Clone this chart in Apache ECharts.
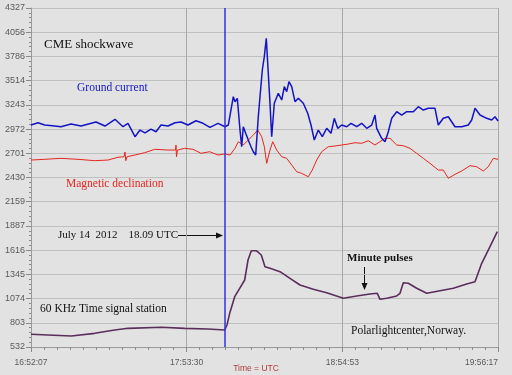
<!DOCTYPE html>
<html><head><meta charset="utf-8">
<script src="https://cdn.jsdelivr.net/npm/echarts@6/dist/echarts.min.js"></script>
<style>html,body{margin:0;padding:0;background:#e2e2e2;}#c{width:512px;height:375px;}</style>
</head><body><div id="c"></div>
<script>
// time axis: minutes after 16:52:07 UTC
const xTickLabels = ['16:52:07', '17:53:30', '18:54:53', '19:56:17'];
const xSpanMinutes = 184.1667;
const yTickLabels = ['532', '803', '1074', '1345', '1616', '1887', '2159', '2430', '2701', '2972', '3243', '3514', '3786', '4056', '4327'];
const yMin = 532, yMax = 4327;
const eventMinute = 76.5; // 18.09 UTC

const groundTime = [0, 2.76, 5.40, 9.35, 11.83, 15.77, 19.72, 25.63, 29.18, 33.13, 36.28, 38.25, 41.01, 42.98, 44.96, 47.32, 49.30, 51.27, 54.03, 56.79, 59.16, 61.91, 65.07, 67.83, 70.59, 73.74, 76.51, 77.81, 79.78, 80.45, 81.36, 82.42, 83.09, 83.72, 84.67, 85.69, 86.76, 87.67, 88.61, 89.64, 90.31, 91.22, 92.01, 92.79, 93.35, 94.25, 94.92, 95.95, 97.53, 98.87, 99.89, 100.84, 101.74, 102.81, 104.11, 105.41, 107.39, 109.12, 110.42, 111.72, 113.30, 114.88, 116.61, 118.31, 119.61, 120.95, 122.53, 124.50, 126.20, 128.44, 130.41, 132.39, 134.36, 135.66, 136.33, 138.30, 139.60, 140.91, 142.25, 144.22, 146.19, 148.16, 150.77, 152.74, 154.71, 156.68, 159.32, 160.62, 162.59, 164.57, 167.21, 169.85, 172.45, 173.79, 175.10, 177.07, 179.71, 181.68, 182.98, 184.17];
const groundValue = [3017, 3043, 3017, 3006, 2998, 3028, 3006, 3051, 3006, 3081, 2998, 3036, 2886, 2961, 2928, 2972, 2942, 3017, 3006, 3043, 3051, 3017, 3065, 3036, 2991, 3036, 2998, 3017, 3334, 3278, 3316, 2961, 2774, 2998, 2924, 2849, 2774, 2718, 2681, 3110, 3334, 3633, 3782, 3988, 3708, 3260, 2886, 3260, 3372, 3297, 3446, 3390, 3502, 3446, 3278, 3316, 3260, 3148, 3017, 2849, 2961, 2886, 2980, 2924, 3092, 2980, 3017, 2998, 3036, 2998, 3036, 2980, 3017, 3129, 2980, 2868, 2830, 2942, 3092, 3166, 3129, 3166, 3166, 3222, 3185, 3204, 3204, 3017, 3092, 3110, 2998, 2998, 3017, 3073, 3204, 3129, 3092, 3073, 3110, 3062];

const declTime = [0, 5.40, 11.83, 18.53, 25.12, 30.37, 34.31, 36.68, 37.07, 37.39, 37.86, 40.89, 44.84, 48.78, 54.03, 56.99, 57.18, 57.38, 57.77, 60.61, 63.89, 67.04, 70.47, 73.74, 76.39, 78.48, 80.45, 81.75, 83.72, 85.69, 87.67, 89.40, 90.98, 92.01, 92.95, 94.25, 95.32, 96.89, 98.87, 100.84, 102.81, 104.78, 106.75, 109.36, 110.93, 112.67, 114.64, 117.24, 119.89, 122.53, 125.13, 127.77, 130.41, 133.02, 135.66, 136.33, 139.60, 141.58, 144.22, 146.82, 149.46, 152.10, 154.71, 157.35, 160.62, 162.59, 164.57, 167.21, 169.85, 173.12, 175.77, 178.37, 180.34, 182.31, 184.17];
const declValue = [2625, 2633, 2644, 2633, 2618, 2625, 2656, 2662, 2715, 2618, 2662, 2681, 2707, 2745, 2737, 2737, 2793, 2662, 2737, 2756, 2745, 2700, 2718, 2681, 2693, 2681, 2756, 2830, 2793, 2849, 2905, 2961, 2886, 2774, 2588, 2737, 2830, 2737, 2662, 2644, 2569, 2494, 2476, 2438, 2513, 2625, 2718, 2774, 2782, 2793, 2804, 2819, 2812, 2841, 2793, 2774, 2868, 2868, 2793, 2785, 2756, 2700, 2644, 2588, 2513, 2513, 2421, 2465, 2502, 2562, 2550, 2502, 2550, 2644, 2633];

const signalTime = [0, 6.70, 15.89, 25.12, 33.01, 38.25, 51.39, 60.61, 69.80, 76.39, 77.29, 78.36, 80.33, 82.30, 84.27, 85.58, 86.88, 88.85, 90.82, 92.28, 94.25, 98.20, 102.14, 106.08, 111.33, 116.61, 123.16, 128.44, 133.69, 136.57, 137.63, 140.28, 144.22, 145.52, 146.82, 148.79, 152.10, 156.05, 161.29, 166.54, 171.82, 175.10, 177.74, 181.01, 183.89];
const signalValue = [674, 666, 655, 685, 722, 741, 753, 741, 734, 722, 778, 909, 1095, 1189, 1282, 1506, 1610, 1610, 1562, 1431, 1413, 1375, 1301, 1226, 1178, 1140, 1077, 1103, 1125, 1133, 1066, 1077, 1103, 1133, 1252, 1245, 1189, 1133, 1162, 1189, 1237, 1263, 1469, 1655, 1823];

function pairs(t, v) { return t.map((x, i) => [x, v[i]]); }

const chart = echarts.init(document.getElementById('c'), null, {renderer: 'canvas'});
const serif = '"Liberation Serif", "DejaVu Serif", serif';
const sans = '"Liberation Sans", Arial, sans-serif';

chart.setOption({
  backgroundColor: '#e2e2e2',
  animation: false,
  grid: {left: 31, right: 14, top: 8, bottom: 28, containLabel: false, outerBoundsMode: 'none'},
  xAxis: [
    {type: 'value', min: 0, max: xSpanMinutes, show: false},
    {type: 'value', min: 0, max: xTickLabels.length - 1, interval: 1, position: 'bottom',
      axisLine: {show: true, onZero: false, lineStyle: {color: '#9a9a9a', width: 1}},
      axisTick: {show: true, length: 5, lineStyle: {color: '#8a8a8a'}},
      minorTick: {show: true, splitNumber: 12, length: 3, lineStyle: {color: '#8a8a8a'}},
      splitLine: {show: true, lineStyle: {color: '#a8a8a8', width: 1}},
      axisLabel: {margin: 11, fontFamily: sans, fontSize: 8.5, color: '#5a5a5a', alignMaxLabel: 'right',
        formatter: v => xTickLabels[Math.round(v)] || ''}
    }
  ],
  yAxis: [
    {type: 'value', min: yMin, max: yMax, show: false},
    {type: 'value', min: 0, max: yTickLabels.length - 1, interval: 1, position: 'left',
      axisLine: {show: true, lineStyle: {color: '#9a9a9a', width: 1}},
      axisTick: {show: true, length: 5, lineStyle: {color: '#8a8a8a'}},
      minorTick: {show: true, splitNumber: 5, length: 2, lineStyle: {color: '#8a8a8a'}},
      splitLine: {show: true, lineStyle: {color: '#c0c0c0', width: 1}},
      axisLabel: {margin: 6, fontFamily: sans, fontSize: 9, color: '#5a5a5a',
        formatter: v => yTickLabels[Math.round(v)] || ''}
    }
  ],
  series: [
    {name: 'Magnetic declination', type: 'line', xAxisIndex: 0, yAxisIndex: 0, data: pairs(declTime, declValue),
      showSymbol: false, lineStyle: {color: '#e3261f', width: 1}, itemStyle: {color: '#e3261f'}},
    {name: '60 KHz Time signal station', type: 'line', xAxisIndex: 0, yAxisIndex: 0, data: pairs(signalTime, signalValue),
      showSymbol: false, lineStyle: {color: '#5a2d5c', width: 1.6}, itemStyle: {color: '#5a2d5c'}},
    {name: 'Ground current', type: 'line', xAxisIndex: 0, yAxisIndex: 0, data: pairs(groundTime, groundValue),
      showSymbol: false, lineStyle: {color: '#1414c4', width: 1.5}, itemStyle: {color: '#1414c4'},
      markLine: {silent: true, symbol: ['none', 'none'], label: {show: false},
        lineStyle: {color: '#3030e6', width: 1.5, type: 'solid'},
        data: [{xAxis: eventMinute}]}}
  ],
  graphic: [
    {type: 'text', x: 256, y: 369, style: {text: 'Time = UTC', font: '8.5px ' + sans, fill: '#b03a3a', align: 'center', verticalAlign: 'middle'}},
    {type: 'text', x: 44, y: 45, style: {text: 'CME shockwave', font: '13px ' + serif, fill: '#111', verticalAlign: 'middle'}},
    {type: 'text', x: 77, y: 88, style: {text: 'Ground current', font: '11.5px ' + serif, fill: '#1414c4', verticalAlign: 'middle'}},
    {type: 'text', x: 66, y: 184, style: {text: 'Magnetic declination', font: '11.5px ' + serif, fill: '#e3261f', verticalAlign: 'middle'}},
    {type: 'text', x: 58, y: 235, style: {text: 'July 14  2012    18.09 UTC', font: '11px ' + serif, fill: '#111', verticalAlign: 'middle'}},
    {type: 'line', shape: {x1: 178, y1: 235.5, x2: 218, y2: 235.5}, style: {stroke: '#111', lineWidth: 1}},
    {type: 'polygon', shape: {points: [[223, 235.5], [216, 232.5], [216, 238.5]]}, style: {fill: '#111'}},
    {type: 'text', x: 40, y: 309, style: {text: '60 KHz Time signal station', font: '11.5px ' + serif, fill: '#111', verticalAlign: 'middle'}},
    {type: 'text', x: 347, y: 258, style: {text: 'Minute pulses', font: 'bold 11px ' + serif, fill: '#111', verticalAlign: 'middle'}},
    {type: 'line', shape: {x1: 364.5, y1: 267, x2: 364.5, y2: 284}, style: {stroke: '#111', lineWidth: 1}},
    {type: 'polygon', shape: {points: [[364.5, 290], [361.5, 283], [367.5, 283]]}, style: {fill: '#111'}},
    {type: 'text', x: 351, y: 331, style: {text: 'Polarlightcenter,Norway.', font: '11.5px ' + serif, fill: '#111', verticalAlign: 'middle'}}
  ]
});
</script>
</body></html>
